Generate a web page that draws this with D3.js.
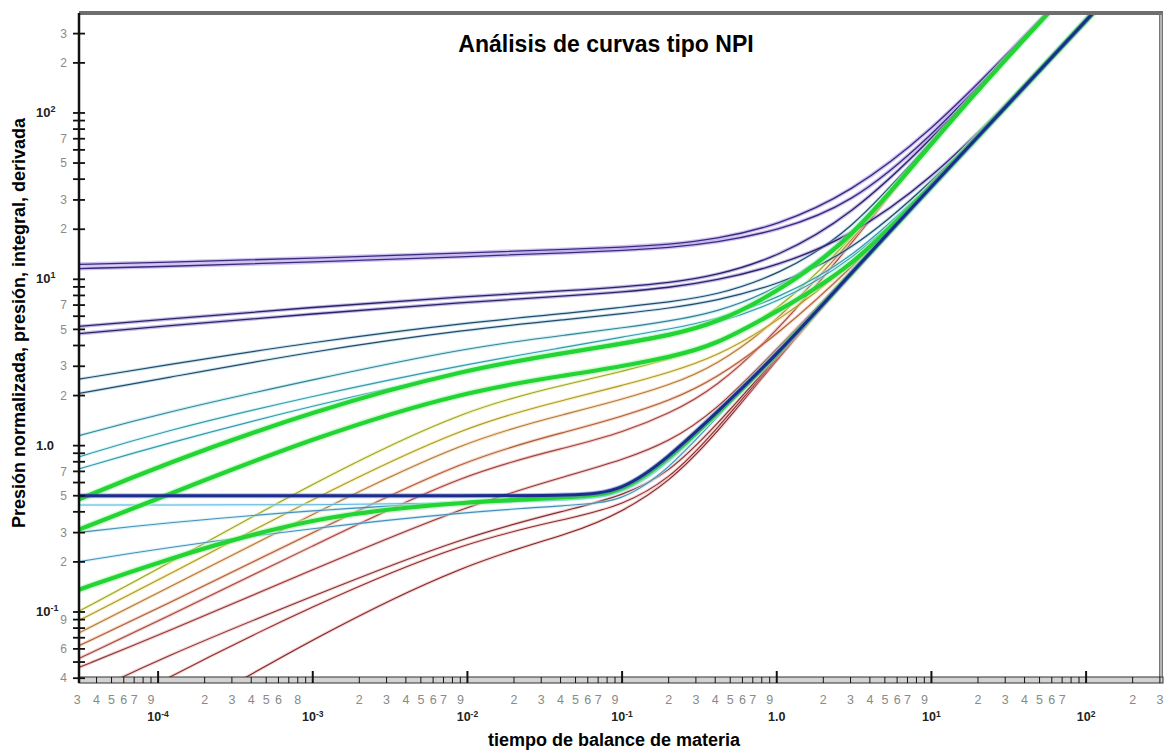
<!DOCTYPE html>
<html>
<head>
<meta charset="utf-8">
<script src="https://cdn.jsdelivr.net/npm/d3@7"></script>
<style>
body { margin: 0; background: #fff; }
svg { display: block; }
text { font-family: "Liberation Sans", Arial, sans-serif; }
</style>
</head>
<body>
<div id="chart"></div>
<script>
// tiempo de balance de materia (eje x) donde se leyeron las curvas
var tiempo = [3e-5, 1e-4, 1e-3, 1e-2, 0.05, 0.1, 0.2, 0.4, 1, 3, 10, 30, 100, 300];

// curvas (presion normalizada / integral / derivada)
var P1 = [12.3, 12.6, 13.4, 14.4, 15.2, 15.6, 16.2, 17.4, 21, 33, 78, 220, 700, 2100];
var P2 = [11.6, 11.9, 12.7, 13.7, 14.5, 14.9, 15.5, 16.6, 19.5, 28, 72, 214, 700, 2100];
var N1 = [5.2, 5.7, 6.8, 7.9, 8.6, 9.0, 9.5, 10.5, 13.5, 24, 69, 211, 700, 2100];
var N2 = [4.7, 5.2, 6.2, 7.3, 8.0, 8.4, 8.9, 9.8, 12, 18, 40, 110, 362, 1080];
var B1 = [2.5, 3.0, 4.2, 5.5, 6.3, 6.8, 7.3, 8.0, 10.5, 19, 68, 210, 700, 2100];
var B2 = [2.05, 2.5, 3.7, 5.0, 5.8, 6.2, 6.7, 7.4, 9.2, 14.5, 38, 109, 361, 1080];
var T1 = [1.14, 1.55, 2.5, 3.9, 4.7, 5.1, 5.6, 6.3, 8.6, 17.5, 67, 210, 700, 2100];
var T2 = [0.85, 1.2, 2.0, 3.1, 4.0, 4.5, 5.0, 5.7, 7.6, 13, 37, 108, 360, 1080];
var T3 = [0.72, 1.0, 1.75, 2.8, 3.7, 4.2, 4.7, 5.4, 7.2, 12.5, 36.5, 108, 360, 1080];
var T4 = [0.3, 0.34, 0.41, 0.46, 0.48, 0.5, 0.78, 1.5, 3.5, 10.9, 36.5, 109, 360, 1080];
var T5 = [0.2, 0.24, 0.32, 0.4, 0.44, 0.46, 0.72, 1.45, 3.5, 10.9, 36.5, 109, 360, 1080];
var C1 = [0.44, 0.44, 0.44, 0.45, 0.47, 0.5, 0.8, 1.5, 3.5, 10.8, 36, 108, 360, 1080];
var G1 = [0.47, 0.75, 1.62, 2.9, 3.7, 4.1, 4.6, 5.4, 8.3, 17, 66, 210, 700, 2100];
var G2 = [0.31, 0.48, 1.12, 2.15, 2.7, 3.0, 3.4, 4.0, 6.4, 11.5, 36.5, 108, 360, 1080];
var G3 = [0.135, 0.2, 0.38, 0.46, 0.49, 0.52, 0.83, 1.52, 3.5, 10.8, 36, 108, 360, 1080];
var H  = [0.5, 0.5, 0.5, 0.5, 0.5, 0.53, 0.85, 1.55, 3.5, 10.8, 36, 108, 360, 1080];
var Y1 = [0.1, 0.18, 0.6, 1.7, 2.4, 2.8, 3.3, 4.0, 6.3, 17, 67, 210, 700, 2100];
var Y2 = [0.088, 0.155, 0.48, 1.35, 1.95, 2.3, 2.75, 3.4, 5.5, 12, 37, 108, 360, 1080];
var O1 = [0.074, 0.13, 0.39, 1.1, 1.6, 1.9, 2.3, 3.0, 5.5, 16.5, 67, 210, 700, 2100];
var O2 = [0.062, 0.105, 0.3, 0.85, 1.25, 1.5, 1.85, 2.5, 4.6, 11.5, 36.5, 108, 360, 1080];
var R1 = [0.052, 0.088, 0.25, 0.7, 1.0, 1.2, 1.55, 2.2, 4.8, 16, 67, 210, 700, 2100];
var R2 = [0.046, 0.072, 0.18, 0.44, 0.68, 0.82, 1.05, 1.6, 3.8, 11, 36.5, 108, 360, 1080];
var R3 = [0.03, 0.052, 0.125, 0.29, 0.42, 0.5, 0.68, 1.3, 3.4, 10.8, 36, 108, 360, 1080];
var R4 = [0.02, 0.038, 0.11, 0.27, 0.37, 0.44, 0.62, 1.22, 3.35, 10.7, 36, 108, 360, 1080];
var R5 = [0.01, 0.02, 0.07, 0.2, 0.3, 0.4, 0.6, 1.15, 3.3, 10.6, 36, 108, 360, 1080];

// etiquetas de los ejes
var xEtiquetas = [3e-5, 4e-5, 5e-5, 6e-5, 7e-5, 9e-5,
  2e-4, 3e-4, 4e-4, 5e-4, 6e-4, 8e-4,
  2e-3, 3e-3, 4e-3, 5e-3, 6e-3, 7e-3, 9e-3,
  2e-2, 3e-2, 4e-2, 5e-2, 6e-2, 7e-2, 9e-2,
  0.2, 0.3, 0.4, 0.5, 0.6, 0.7, 0.9,
  2, 3, 4, 5, 6, 7, 9,
  20, 30, 40, 50, 60, 70,
  200, 300];
var xDecadas = [1e-4, 1e-3, 1e-2, 1e-1, 1, 10, 100];
var xDecadasTexto = [["10", "-4"], ["10", "-3"], ["10", "-2"], ["10", "-1"], ["1.0", ""], ["10", "1"], ["10", "2"]];
var yEtiquetas = [0.04, 0.06, 0.09, 0.2, 0.3, 0.5, 0.7, 2, 3, 5, 7, 20, 30, 50, 70, 200, 300];
var yDecadas = [0.1, 1, 10, 100];
var yDecadasTexto = [["10", "-1"], ["1.0", ""], ["10", "1"], ["10", "2"]];

// estilo de cada curva: [datos, color, halo, ancho, ancho halo]
var curvas = [
  [R5, "#7a2828", "#eea0a0", 1.1, 3.2],
  [R4, "#843030", "#f4a8a8", 1.1, 3.2],
  [R3, "#7e3434", "#f0a4a4", 1.1, 3.2],
  [R2, "#8a3c3c", "#ee9a9a", 1.1, 3.2],
  [R1, "#9a4a44", "#f29a92", 1.1, 3.2],
  [O2, "#a8603e", "#f4aa86", 1.1, 3.2],
  [O1, "#b07a44", "#f6c68a", 1.1, 3.2],
  [Y2, "#a89a3a", "#f4e070", 1.1, 3.2],
  [Y1, "#9aa23a", "#e6ec70", 1.1, 3.2],
  [T5, "#4a8fb8", "#b0e8f8", 1.1, 3.2],
  [T4, "#4a8fb8", "#b0e8f8", 1.1, 3.2],
  [C1, "#58b4d8", "#c0f0ff", 1.1, 3.2],
  [T3, "#3d97a8", "#a6f0f4", 1.1, 3.2],
  [T2, "#3d97a8", "#a6f0f4", 1.1, 3.2],
  [T1, "#3f7f93", "#94e4f0", 1.1, 3.2],
  [B2, "#2b4866", "#8fcde6", 1.2, 3.2],
  [B1, "#2b4866", "#8fcde6", 1.2, 3.2],
  [N2, "#2d2363", "#8a78d6", 1.3, 3.6],
  [N1, "#2d2363", "#8a78d6", 1.3, 3.6],
  [P2, "#3b2a7c", "#9f86e6", 1.3, 4],
  [P1, "#3b2a7c", "#9f86e6", 1.3, 4],
  [G3, "#22d434", "#a8f5a8", 4.2, 7],
  [G2, "#22d434", "#a8f5a8", 4.2, 7],
  [G1, "#22d434", "#a8f5a8", 4.2, 7],
  [H, "#1c2e8c", "#6c7cd8", 3, 5]
];

var svg = d3.select("#chart")
  .append("svg")
  .attr("width", 1168)
  .attr("height", 753);

var x = d3.scaleLog().domain([3.08e-5, 305]).range([79, 1161]);
var y = d3.scaleLog().domain([0.039, 399]).range([680, 13]);

svg.append("clipPath").attr("id", "area")
  .append("rect")
  .attr("x", 79).attr("y", 13)
  .attr("width", 1082).attr("height", 667);

var linea = d3.line()
  .x(function(d) { return x(d[0]); })
  .y(function(d) { return y(d[1]); })
  .curve(d3.curveBasis);

var plot = svg.append("g").attr("clip-path", "url(#area)");

curvas.forEach(function(c) {
  var pts = tiempo.map(function(t, i) { return [t, c[0][i]]; });
  plot.append("path")
    .attr("d", linea(pts))
    .attr("fill", "none")
    .attr("stroke", c[2])
    .attr("stroke-width", c[4])
    .attr("stroke-opacity", 0.5);
  plot.append("path")
    .attr("d", linea(pts))
    .attr("fill", "none")
    .attr("stroke", c[1])
    .attr("stroke-width", c[3]);
});

// marco superior y derecho
svg.append("line").attr("x1", 79).attr("x2", 1163).attr("y1", 13).attr("y2", 13)
  .attr("stroke", "#6e6e6e").attr("stroke-width", 4);
svg.append("line").attr("x1", 1161).attr("x2", 1161).attr("y1", 13).attr("y2", 683)
  .attr("stroke", "#777").attr("stroke-width", 4);
svg.append("line").attr("x1", 1161).attr("x2", 1161).attr("y1", 15).attr("y2", 680)
  .attr("stroke", "#ddd").attr("stroke-width", 1.2);

// eje x tipo regla
svg.append("rect").attr("x", 79).attr("y", 677).attr("width", 1084).attr("height", 6)
  .attr("fill", "#d2d2d2").attr("stroke", "#333").attr("stroke-width", 1);

var xTicks = x.ticks(30);
svg.append("g").selectAll("line")
  .data(xTicks)
  .enter()
  .append("line")
  .attr("x1", function(d) { return x(d); })
  .attr("x2", function(d) { return x(d); })
  .attr("y1", function(d) { return xDecadas.indexOf(d) >= 0 ? 671 : 677; })
  .attr("y2", 683)
  .attr("stroke", "#111")
  .attr("stroke-width", function(d) { return xDecadas.indexOf(d) >= 0 ? 2 : 1; });

function mantisa(v) {
  return Math.round(v / Math.pow(10, Math.floor(Math.log10(v) + 1e-9)));
}

svg.append("g").selectAll("text")
  .data(xEtiquetas)
  .enter()
  .append("text")
  .attr("x", function(d) { return x(d); })
  .attr("y", 704)
  .attr("text-anchor", "middle")
  .attr("font-size", 12.5)
  .attr("fill", "#8a8a8a")
  .text(function(d) { return mantisa(d); });

var xDec = svg.append("g").selectAll("text")
  .data(xDecadas)
  .enter()
  .append("text")
  .attr("x", function(d) { return x(d); })
  .attr("y", 721)
  .attr("text-anchor", "middle")
  .attr("font-size", 12.5)
  .attr("font-weight", "bold")
  .attr("fill", "#222");
xDec.append("tspan").text(function(d, i) { return xDecadasTexto[i][0]; });
xDec.append("tspan").attr("dy", -4).attr("font-size", 8.5)
  .text(function(d, i) { return xDecadasTexto[i][1]; });

// eje y
svg.append("line").attr("x1", 79).attr("x2", 79).attr("y1", 13).attr("y2", 683)
  .attr("stroke", "#111").attr("stroke-width", 2.5);

var yTicks = y.ticks(30);
svg.append("g").selectAll("line")
  .data(yTicks)
  .enter()
  .append("line")
  .attr("x1", 73)
  .attr("x2", 85)
  .attr("y1", function(d) { return y(d); })
  .attr("y2", function(d) { return y(d); })
  .attr("stroke", "#111")
  .attr("stroke-width", 1.8);

svg.append("g").selectAll("text")
  .data(yEtiquetas)
  .enter()
  .append("text")
  .attr("x", 67)
  .attr("y", function(d) { return y(d); })
  .attr("dy", "0.35em")
  .attr("text-anchor", "end")
  .attr("font-size", 12)
  .attr("fill", "#8a8a8a")
  .text(function(d) { return mantisa(d); });

var yDec = svg.append("g").selectAll("text")
  .data(yDecadas)
  .enter()
  .append("text")
  .attr("x", 36)
  .attr("y", function(d) { return y(d) + 4; })
  .attr("font-size", 13)
  .attr("font-weight", "bold")
  .attr("fill", "#222");
yDec.append("tspan").text(function(d, i) { return yDecadasTexto[i][0]; });
yDec.append("tspan").attr("dy", -5).attr("font-size", 9)
  .text(function(d, i) { return yDecadasTexto[i][1]; });

// titulos
svg.append("text")
  .attr("x", 606).attr("y", 52)
  .attr("text-anchor", "middle")
  .attr("font-size", 23)
  .attr("font-weight", "bold")
  .text("Análisis de curvas tipo NPI");

svg.append("text")
  .attr("x", 614).attr("y", 746)
  .attr("text-anchor", "middle")
  .attr("font-size", 18)
  .attr("font-weight", "bold")
  .text("tiempo de balance de materia");

svg.append("text")
  .attr("transform", "translate(25,323) rotate(-90)")
  .attr("text-anchor", "middle")
  .attr("font-size", 18)
  .attr("font-weight", "bold")
  .text("Presión normalizada, presión, integral, derivada");
</script>
</body>
</html>
